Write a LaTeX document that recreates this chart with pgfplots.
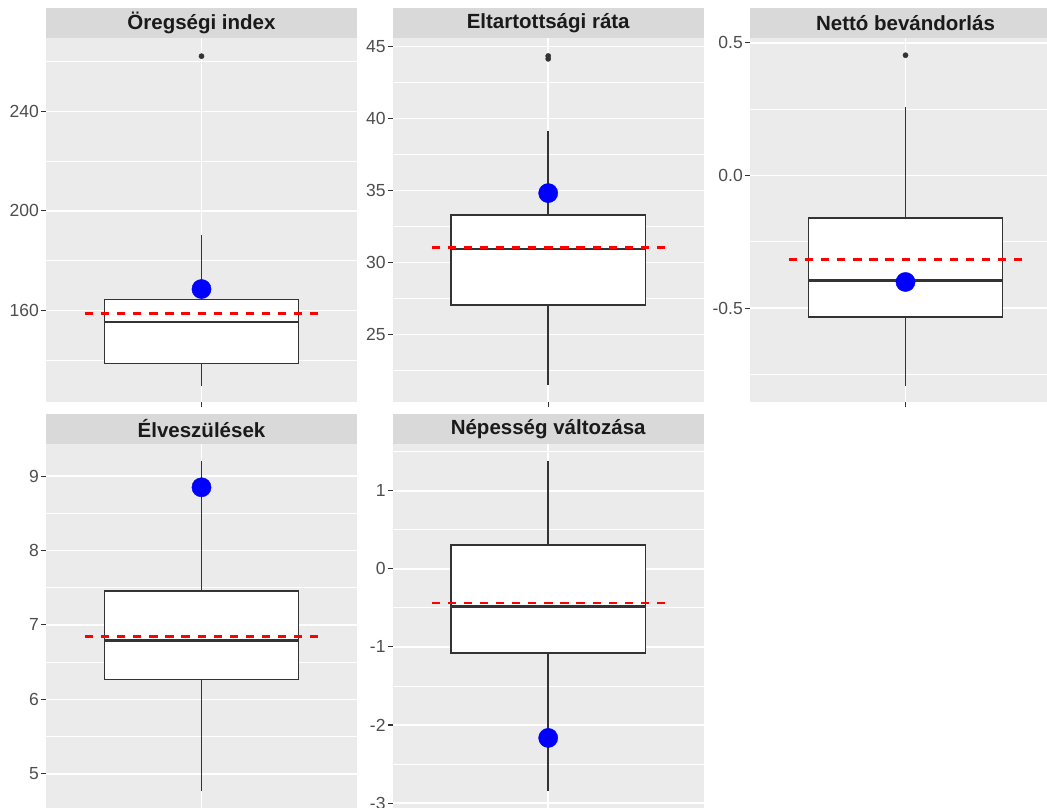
\documentclass[border=0pt]{standalone}
\usepackage{fontspec}
\setmainfont{Liberation Sans}
\usepackage{pgfplots}
\pgfplotsset{compat=1.18}

\definecolor{panelbg}{HTML}{EBEBEB}
\definecolor{stripbg}{HTML}{D9D9D9}
\definecolor{striptext}{HTML}{1A1A1A}
\definecolor{ticktext}{HTML}{4D4D4D}
\definecolor{tickcol}{HTML}{333333}

\pgfplotsset{
  facet/.style={
    scale only axis, width=311pt, height=364pt, anchor=south west,
    xmin=0.4, xmax=1.6, xtick={1}, xticklabels={},
    axis background/.style={fill=panelbg},
    axis line style={draw=none},
    grid=both,
    major grid style={white, line width=1.6pt},
    minor grid style={white, line width=0.8pt},
    tick align=outside, ytick pos=left, xtick pos=bottom,
    major tick length=5pt, minor tick length=0pt,
    major tick style={tickcol, line width=1.1pt},
    yticklabel style={font=\fontsize{17.5}{20}\selectfont, text=ticktext, inner sep=1pt, xshift=-1pt},
    every axis title shift=0pt,
    title style={at={(0.5,1)}, anchor=south, yshift=0pt, fill=stripbg,
      minimum width=311pt, minimum height=30pt, inner sep=0pt,
      text=striptext, font=\fontsize{20.5}{24}\selectfont\bfseries},
  },
  boxline/.style={tickcol, line width=1.5pt},
  medline/.style={tickcol, line width=2.6pt},
  refline/.style={red, line width=2.8pt, dash pattern=on 8.3pt off 7.8pt},
  outlier/.style={only marks, mark=*, mark size=2.6pt, tickcol},
  region/.style={only marks, mark=*, mark size=9.6pt, blue},
}

\begin{document}
\begin{tikzpicture}
\path[use as bounding box] (0pt,0pt) rectangle (1047pt,807pt);
\clip (0pt,0pt) rectangle (1047pt,807pt);

% Öregségi index
\begin{axis}[facet, at={(46pt,405pt)}, title={Öregségi index},
  ymin=123.2, ymax=269.5, ytick={160,200,240}, yticklabels={160,200,240},
  minor ytick={140,180,220,260}]
\addplot[boxline] coordinates {(1,164.4) (1,190.3)};
\addplot[boxline] coordinates {(1,138.7) (1,129.8)};
\addplot[boxline, fill=white] coordinates {(0.625,138.7) (1.375,138.7) (1.375,164.4) (0.625,164.4)} -- cycle;
\addplot[medline] coordinates {(0.625,155.3) (1.375,155.3)};
\addplot[outlier] coordinates {(1,262.2)};
\addplot[refline] coordinates {(0.55,158.7) (1.45,158.7)};
\addplot[region] coordinates {(1,168.6)};
\end{axis}

% Eltartottsági ráta
\begin{axis}[facet, at={(392.7pt,405pt)}, title={Eltartottsági ráta},
  ymin=20.3, ymax=45.6, ytick={25,30,35,40,45}, yticklabels={25,30,35,40,45},
  minor ytick={22.5,27.5,32.5,37.5,42.5}]
\addplot[boxline] coordinates {(1,33.31) (1,39.12)};
\addplot[boxline] coordinates {(1,27.04) (1,21.45)};
\addplot[boxline, fill=white] coordinates {(0.625,27.04) (1.375,27.04) (1.375,33.31) (0.625,33.31)} -- cycle;
\addplot[medline] coordinates {(0.625,30.93) (1.375,30.93)};
\addplot[outlier] coordinates {(1,44.15) (1,44.35)};
\addplot[refline] coordinates {(0.55,31.04) (1.45,31.04)};
\addplot[region] coordinates {(1,34.82)};
\end{axis}

% Nettó bevándorlás
\begin{axis}[facet, at={(750pt,405pt)}, title={Nettó bevándorlás},
  ymin=-0.854, ymax=0.518, ytick={-0.5,0,0.5}, yticklabels={-0.5,0.0,0.5},
  minor ytick={-0.75,-0.25,0.25}]
\addplot[boxline] coordinates {(1,-0.161) (1,0.2595)};
\addplot[boxline] coordinates {(1,-0.534) (1,-0.792)};
\addplot[boxline, fill=white] coordinates {(0.625,-0.534) (1.375,-0.534) (1.375,-0.161) (0.625,-0.161)} -- cycle;
\addplot[medline] coordinates {(0.625,-0.3955) (1.375,-0.3955)};
\addplot[outlier] coordinates {(1,0.453)};
\addplot[refline] coordinates {(0.55,-0.316) (1.45,-0.316)};
\addplot[region] coordinates {(1,-0.4016)};
\end{axis}

% Élveszülések
\begin{axis}[facet, at={(46pt,-1pt)}, title={Élveszülések},
  ymin=4.539, ymax=9.432, ytick={5,6,7,8,9}, yticklabels={5,6,7,8,9},
  minor ytick={5.5,6.5,7.5,8.5}]
\addplot[boxline] coordinates {(1,7.456) (1,9.21)};
\addplot[boxline] coordinates {(1,6.266) (1,4.761)};
\addplot[boxline, fill=white] coordinates {(0.625,6.266) (1.375,6.266) (1.375,7.456) (0.625,7.456)} -- cycle;
\addplot[medline] coordinates {(0.625,6.788) (1.375,6.788)};
\addplot[refline] coordinates {(0.55,6.842) (1.45,6.842)};
\addplot[region] coordinates {(1,8.85)};
\end{axis}

% Népesség változása
\begin{axis}[facet, at={(392.7pt,-1pt)}, title={Népesség változása},
  ymin=-3.062, ymax=1.598, ytick={-3,-2,-1,0,1}, yticklabels={-3,-2,-1,0,1},
  minor ytick={-2.5,-1.5,-0.5,0.5,1.5}]
\addplot[boxline] coordinates {(1,0.303) (1,1.386)};
\addplot[boxline] coordinates {(1,-1.08) (1,-2.85)};
\addplot[boxline, fill=white] coordinates {(0.625,-1.08) (1.375,-1.08) (1.375,0.303) (0.625,0.303)} -- cycle;
\addplot[medline] coordinates {(0.625,-0.485) (1.375,-0.485)};
\addplot[refline] coordinates {(0.55,-0.437) (1.45,-0.437)};
\addplot[region] coordinates {(1,-2.165)};
\end{axis}
\end{tikzpicture}
\end{document}
